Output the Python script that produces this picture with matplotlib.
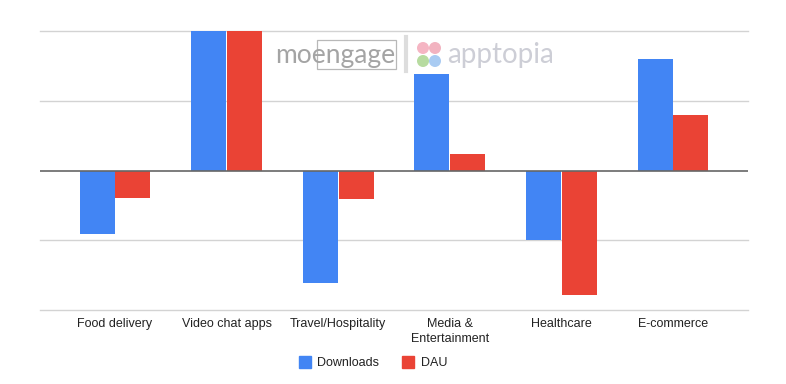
import matplotlib
matplotlib.use("Agg")
import matplotlib.pyplot as plt
import numpy as np
from matplotlib.patches import Rectangle, Ellipse
from matplotlib.lines import Line2D

categories = ["Food delivery", "Video chat apps", "Travel/Hospitality",
              "Media &\nEntertainment", "Healthcare", "E-commerce"]
downloads = [-0.91, 2.0, -1.615, 1.39, -1.0, 1.595]
dau = [-0.39, 2.0, -0.415, 0.24, -1.79, 0.80]
series_names = ["Downloads", "DAU"]

BLUE = "#4285F4"
RED = "#EA4335"
W, H = 786, 384

plt.rcParams['font.family'] = ['Liberation Sans', 'DejaVu Sans']
fig = plt.figure(figsize=(W / 100, H / 100), dpi=100)
ax = fig.add_axes([40 / W, 1 - 310 / H, 708 / W, 279 / H])

x = np.arange(len(categories))
bw = 0.314
ax.bar(x - bw / 2 - 0.004, downloads, width=bw, color=BLUE, zorder=3, label=series_names[0])
ax.bar(x + bw / 2 + 0.004, dau, width=bw, color=RED, zorder=3, label=series_names[1])

ax.set_xlim(-0.672, 5.672)
ax.set_ylim(-2, 2)
for yv in [-2, -1, 1, 2]:
    ax.axhline(yv, color="#d3d3d3", lw=1, zorder=1, clip_on=False)
ax.axhline(0, color="#666666", lw=1.2, zorder=4)
for s in ax.spines.values():
    s.set_visible(False)
ax.set_yticks([])
ax.set_xticks(x)
ax.set_xticklabels(categories, fontsize=9, color="#222222", linespacing=1.3, va="top")
ax.tick_params(axis="x", length=0, pad=6)

# legend
handles = [Line2D([], [], marker="s", ls="none", markersize=8, markerfacecolor=BLUE, markeredgecolor=BLUE),
           Line2D([], [], marker="s", ls="none", markersize=8, markerfacecolor=RED, markeredgecolor=RED)]
fig.legend(handles, series_names, loc="center", bbox_to_anchor=(373 / W, 1 - 363 / H), ncol=2,
           frameon=False, fontsize=9, handletextpad=0.5, columnspacing=1.8, handlelength=1.0,
           labelcolor="#222222")

# watermark
def fx(px):
    return px / W
def fy(py):
    return 1 - py / H

fig.text(fx(275), fy(55), "moengage", fontsize=19, color="#a4a4a4", va="center", ha="left",
         family=["Lato", "DejaVu Sans"])
fig.add_artist(Rectangle((fx(317), fy(69)), fx(396) - fx(317), fy(40) - fy(69),
                         transform=fig.transFigure, fill=False, edgecolor="#b8b8b8", lw=0.9))
fig.add_artist(Line2D([fx(406), fx(406)], [fy(37), fy(71)], transform=fig.transFigure,
                      color="#dddddd", lw=3))
for (cx, cy, col) in [(423, 48, "#f5b5c3"), (435, 48, "#f2b3c0"), (423, 61, "#b7dba0"), (435, 61, "#a9cbf2")]:
    fig.add_artist(Ellipse((fx(cx), fy(cy)), width=12 / W, height=12 / H, transform=fig.transFigure,
                           facecolor=col, edgecolor="none"))
fig.text(fx(447), fy(55), "apptopia", fontsize=20, color="#cdced6", va="center", ha="left",
         family=["Lato", "DejaVu Sans"])

fig.savefig("out.png", dpi=100, facecolor="white")
